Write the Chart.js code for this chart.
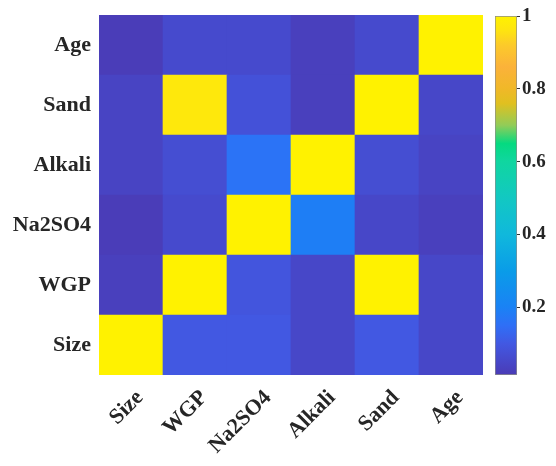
<!DOCTYPE html>
<html>
<head>
<meta charset="utf-8">
<script src="https://cdn.jsdelivr.net/npm/chart.js@4/dist/chart.umd.min.js"></script>
<style>
  html, body { margin: 0; padding: 0; background: #fff; }
  #wrap { position: relative; width: 556px; height: 466px; }
  #heat { position: absolute; left: 0; top: 0; }
  #cbar { position: absolute; left: 490px; top: 0; }
</style>
</head>
<body>
<div id="wrap">
  <canvas id="heat" width="490" height="466"></canvas>
  <canvas id="cbar" width="66" height="466"></canvas>
</div>
<script>
// variables (columns left -> right, rows bottom -> top)
const cols = ['Size', 'WGP', 'Na2SO4', 'Alkali', 'Sand', 'Age'];
const rows = ['Size', 'WGP', 'Na2SO4', 'Alkali', 'Sand', 'Age'];

// values for each row, in column order
const rowSize   = [1.00, 0.10, 0.10, 0.05, 0.10, 0.05];
const rowWGP    = [0.03, 1.00, 0.09, 0.05, 1.00, 0.05];
const rowNa2SO4 = [0.02, 0.06, 1.00, 0.19, 0.05, 0.03];
const rowAlkali = [0.04, 0.07, 0.16, 1.00, 0.07, 0.04];
const rowSand   = [0.04, 0.97, 0.08, 0.03, 1.00, 0.05];
const rowAge    = [0.02, 0.06, 0.06, 0.03, 0.06, 1.00];
const matrix = [rowSize, rowWGP, rowNa2SO4, rowAlkali, rowSand, rowAge];

// colour bar range and ticks
const cMin = 0.014;
const cMax = 1;
const cbTicks = [0.2, 0.4, 0.6, 0.8, 1];

// colormap stops (parula-like, as seen in the picture)
const cmapPos = [0.014, 0.05, 0.10, 0.15, 0.20, 0.30, 0.40, 0.50, 0.60, 0.65, 0.70, 0.76, 0.80, 0.86, 0.92, 0.96, 1.00];
const cmapCol = ['#4a3bb5', '#4747c8', '#4258e2', '#2f6ff6', '#1a82f5', '#0a9ce8', '#10b8dc', '#12c8c2',
                 '#10d6a0', '#05da80', '#92cc58', '#e0c020', '#f0b828', '#fbb23a', '#fcca2a', '#fee410', '#fff200'];

function hexToRgb(h) {
  return [parseInt(h.slice(1, 3), 16), parseInt(h.slice(3, 5), 16), parseInt(h.slice(5, 7), 16)];
}

function colorFor(v) {
  if (v <= cmapPos[0]) return cmapCol[0];
  for (let i = 1; i < cmapPos.length; i++) {
    if (v <= cmapPos[i]) {
      const t = (v - cmapPos[i - 1]) / (cmapPos[i] - cmapPos[i - 1]);
      const a = hexToRgb(cmapCol[i - 1]);
      const b = hexToRgb(cmapCol[i]);
      const c = a.map((x, k) => Math.round(x + (b[k] - x) * t));
      return 'rgb(' + c.join(',') + ')';
    }
  }
  return cmapCol[cmapCol.length - 1];
}

const fontFamily = '"Liberation Serif", "Times New Roman", serif';
const textColor = '#262626';

// heatmap: one floating-bar dataset per row, all sharing the full column width
const datasets = rows.map((r, i) => ({
  label: r,
  data: cols.map(() => [i, i + 1]),
  backgroundColor: matrix[i].map(v => colorFor(v)),
  borderWidth: 0,
  grouped: false,
  barPercentage: 1,
  categoryPercentage: 1
}));

new Chart(document.getElementById('heat'), {
  type: 'bar',
  data: { labels: cols, datasets: datasets },
  options: {
    responsive: false,
    animation: false,
    layout: { padding: { top: 15, right: 7, left: 0, bottom: 0 } },
    plugins: { legend: { display: false }, tooltip: { enabled: false } },
    scales: {
      x: {
        grid: { display: false, drawTicks: false },
        border: { display: false },
        ticks: {
          color: textColor,
          font: { family: fontFamily, size: 22, weight: 'bold' },
          minRotation: 45,
          maxRotation: 45,
          labelOffset: 9,
          padding: 10
        },
        afterFit: (scale) => { scale.height = 91; }
      },
      y: {
        min: 0,
        max: rows.length,
        grid: { display: false, drawTicks: false },
        border: { display: false },
        afterBuildTicks: (scale) => {
          scale.ticks = rows.map((r, i) => ({ value: i + 0.5 }));
        },
        ticks: {
          color: textColor,
          font: { family: fontFamily, size: 22, weight: 'bold' },
          padding: 8,
          callback: (val, idx) => rows[idx]
        },
        afterFit: (scale) => {
          scale.width = 99;
          scale.paddingTop = 0;
          scale.paddingBottom = 0;
        }
      }
    }
  }
});

// colour bar
new Chart(document.getElementById('cbar'), {
  type: 'bar',
  data: {
    labels: [''],
    datasets: [{
      data: [[cMin, cMax]],
      backgroundColor: (ctx) => {
        const chart = ctx.chart;
        const area = chart.chartArea;
        if (!area) return cmapCol[0];
        const ys = chart.scales.y;
        const y0 = ys.getPixelForValue(cMin);
        const y1 = ys.getPixelForValue(cMax);
        const g = chart.ctx.createLinearGradient(0, y0, 0, y1);
        cmapPos.forEach((p, i) => {
          g.addColorStop((p - cMin) / (cMax - cMin), cmapCol[i]);
        });
        return g;
      },
      borderColor: '#8c8c8c',
      borderWidth: 1,
      borderSkipped: false,
      barPercentage: 1,
      categoryPercentage: 1
    }]
  },
  options: {
    responsive: false,
    animation: false,
    layout: { padding: { top: 16, right: 0, left: 5, bottom: 91 } },
    plugins: { legend: { display: false }, tooltip: { enabled: false } },
    scales: {
      x: { display: false },
      y: {
        position: 'right',
        min: cMin,
        max: cMax,
        grid: { drawOnChartArea: false, tickLength: 3, color: '#333', tickColor: '#333' },
        border: { display: false },
        afterBuildTicks: (scale) => {
          scale.ticks = cbTicks.map(v => ({ value: v }));
        },
        ticks: {
          color: textColor,
          font: { family: fontFamily, size: 19, weight: 'bold' },
          padding: 2,
          callback: (val) => String(val)
        },
        afterFit: (scale) => {
          scale.width = 39;
          scale.paddingTop = 0;
          scale.paddingBottom = 0;
        }
      }
    }
  }
});
</script>
</body>
</html>
